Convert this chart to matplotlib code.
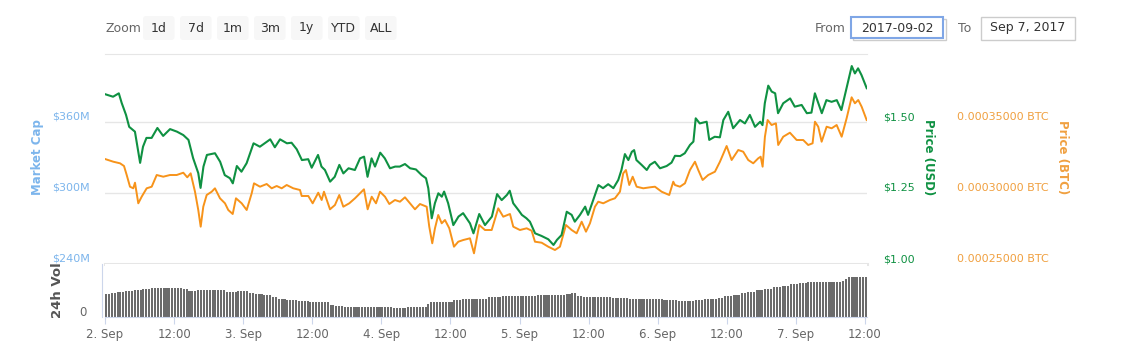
import matplotlib
matplotlib.use("Agg")
import matplotlib.pyplot as plt
import numpy as np
from matplotlib.patches import Rectangle, FancyBboxPatch
from matplotlib.transforms import ScaledTranslation

# hours since 2017-09-02 00:00 and price in USD (green line)
usd_hours = [0, 1.4, 2.4, 2.9, 3.65, 4.2, 5.2, 6.1, 6.6, 7.2,
             8.1, 9.1, 10.1, 11.3, 12.5, 13.6, 14.5, 15.3, 16.2, 16.6,
             17.1, 17.7, 19.1, 20.0, 20.8, 21.7, 22.2, 22.9, 23.7, 24.6,
             25.8, 26.9, 28.7, 29.5, 30.4, 31.6, 32.4, 33.3, 34.2, 35.3,
             35.9, 37.0, 37.6, 38.2, 39.1, 39.9, 40.7, 41.4, 42.3, 43.4,
             44.3, 45.0, 45.6, 46.3, 46.9, 47.8, 48.6, 49.5, 50.4, 51.2,
             52.1, 53.0, 54.0, 55.0, 55.75, 56.15, 56.45, 56.75, 57.3, 57.9,
             58.5, 58.9, 59.6, 60.5, 61.4, 62.2, 63.4, 64.0, 65.0, 66.0,
             67.2, 68.1, 68.9, 69.8, 70.3, 70.9, 71.8, 72.4, 73.2, 73.8,
             74.7, 75.8, 77.0, 77.9, 78.5, 79.3, 80.2, 81.05, 81.6, 82.5,
             83.4, 83.9, 84.8, 85.7, 86.5, 87.4, 88.3, 89.15, 89.7, 90.3,
             90.9, 91.5, 91.9, 92.3, 93.2, 94.1, 94.65, 95.5, 96.4, 97.55,
             98.4, 99.0, 99.9, 100.7, 101.6, 102.2, 102.6, 103.3, 103.9, 104.5,
             104.95, 105.9, 106.8, 107.4, 108.25, 109.1, 110.3, 111.15, 112.0, 112.9,
             113.8, 114.2, 114.6, 115.2, 115.8, 116.4, 116.9, 117.8, 119.0, 119.8,
             121.0, 121.9, 122.7, 123.3, 123.9, 124.5, 125.3, 126.2, 127.1, 127.9,
             128.8, 129.7, 130.25, 130.8, 131.4, 132.3]
usd_price = [1.598, 1.589, 1.601, 1.567, 1.525, 1.483, 1.466, 1.356, 1.413, 1.444,
             1.444, 1.479, 1.451, 1.475, 1.466, 1.454, 1.437, 1.373, 1.320, 1.268,
             1.343, 1.384, 1.390, 1.360, 1.313, 1.302, 1.284, 1.345, 1.325, 1.355,
             1.425, 1.413, 1.439, 1.411, 1.439, 1.425, 1.427, 1.404, 1.366, 1.369,
             1.339, 1.384, 1.343, 1.331, 1.290, 1.307, 1.349, 1.319, 1.337, 1.331,
             1.372, 1.378, 1.307, 1.372, 1.343, 1.392, 1.372, 1.337, 1.343, 1.343,
             1.352, 1.337, 1.333, 1.313, 1.302, 1.267, 1.214, 1.161, 1.214, 1.249,
             1.237, 1.255, 1.214, 1.137, 1.167, 1.179, 1.143, 1.108, 1.176, 1.137,
             1.167, 1.246, 1.225, 1.243, 1.258, 1.214, 1.190, 1.173, 1.161, 1.149,
             1.108, 1.099, 1.087, 1.067, 1.085, 1.102, 1.184, 1.173, 1.149, 1.173,
             1.202, 1.173, 1.225, 1.278, 1.267, 1.281, 1.267, 1.296, 1.331, 1.387,
             1.366, 1.395, 1.401, 1.366, 1.349, 1.331, 1.349, 1.360, 1.337, 1.345,
             1.357, 1.381, 1.380, 1.390, 1.419, 1.431, 1.513, 1.495, 1.498, 1.501,
             1.437, 1.448, 1.446, 1.507, 1.536, 1.478, 1.507, 1.495, 1.525, 1.483,
             1.501, 1.489, 1.566, 1.628, 1.607, 1.601, 1.531, 1.566, 1.583, 1.554,
             1.560, 1.531, 1.533, 1.601, 1.566, 1.531, 1.577, 1.571, 1.577, 1.542,
             1.619, 1.697, 1.671, 1.689, 1.665, 1.619]

# hours and price in satoshi (orange line)
btc_hours = [0, 1.44, 2.61, 3.30, 3.77, 4.34, 4.91, 5.21, 5.78, 6.37,
             7.24, 8.11, 8.98, 10.12, 11.29, 12.45, 13.60, 14.29, 14.88, 15.63,
             16.20, 16.62, 17.07, 17.66, 18.53, 19.10, 19.97, 20.84, 21.41, 22.18,
             22.75, 23.74, 24.61, 25.48, 25.88, 26.92, 28.08, 28.95, 29.82, 30.69,
             31.56, 32.70, 33.87, 34.16, 35.31, 36.07, 37.04, 37.63, 38.03, 39.08,
             39.94, 40.69, 41.39, 42.43, 43.42, 44.29, 44.98, 45.62, 46.32, 47.07,
             47.76, 48.63, 49.38, 50.36, 51.23, 52.10, 52.97, 53.84, 54.71, 55.87,
             56.32, 56.84, 57.31, 57.88, 58.48, 59.05, 59.80, 60.61, 61.36, 62.23,
             63.39, 64.09, 65.00, 65.99, 67.16, 68.30, 69.17, 70.34, 70.91, 72.07,
             73.24, 74.10, 74.68, 75.84, 76.99, 78.15, 79.02, 80.06, 81.05, 81.92,
             82.79, 83.54, 84.23, 85.10, 85.67, 86.54, 87.70, 88.57, 89.44, 90.01,
             90.48, 91.06, 91.65, 92.34, 93.49, 94.65, 95.52, 96.68, 98.00, 98.70,
             98.99, 99.86, 100.73, 101.60, 102.47, 103.04, 103.80, 104.77, 105.94, 106.81,
             107.97, 108.84, 109.99, 110.85, 111.72, 112.59, 113.46, 113.88, 114.22, 114.62,
             115.09, 115.78, 116.53, 116.93, 117.80, 118.96, 120.13, 121.27, 122.14, 122.90,
             123.31, 123.88, 124.47, 125.34, 126.21, 127.08, 127.95, 128.81, 129.68, 130.25,
             130.83, 131.42, 132.29]
btc_sat = [32394, 32204, 32091, 31901, 31267, 30443, 30331, 30725, 29274, 29739,
           30331, 30443, 31267, 31148, 31267, 31267, 31429, 31105, 31387, 30091,
           28803, 27627, 29035, 29859, 30091, 30331, 29627, 29274, 28803, 28521,
           29627, 29274, 28803, 29979, 30683, 30443, 30634, 30331, 30493, 30331,
           30563, 30331, 30211, 29789, 29789, 29274, 30021, 29507, 30091, 28852,
           29155, 29859, 29035, 29274, 29627, 29979, 30260, 28852, 29739, 29274,
           30091, 29739, 29225, 29507, 29387, 29697, 29274, 28852, 29225, 29035,
           27627, 26458, 27514, 28451, 27866, 28098, 27514, 26218, 26570, 26690,
           26810, 25753, 27746, 27394, 27394, 28922, 28331, 28521, 27627, 27394,
           27514, 27345, 26570, 26500, 26218, 25986, 26218, 27746, 27394, 27162,
           27979, 27275, 27866, 29035, 29387, 29274, 29507, 29627, 30091, 31387,
           31619, 30563, 31148, 30443, 30331, 30401, 30443, 30091, 29859, 30796,
           30563, 30443, 30683, 31619, 32204, 31619, 30915, 31267, 31500, 32204,
           33310, 32324, 33028, 32908, 32324, 32091, 32443, 32556, 31852, 33964,
           35140, 34788, 34908, 33380, 33964, 34246, 33732, 33732, 33380, 33500,
           35021, 34669, 33612, 34669, 34556, 34788, 33964, 35260, 36739, 36317,
           36549, 36077, 35140]

# 24h volume, half-hourly bars written as (level, number of bars)
vol_levels = [23.5, 24.5, 25.5, 26.5, 27.5, 28.5, 29.5, 29, 28.5, 26,
              27.5, 27, 25.5, 26, 24.5, 23, 22, 20.5, 18.5, 17,
              16, 15.5, 15, 12.5, 11.5, 10.5, 10, 10.5, 10, 9,
              9.5, 10.5, 13, 15, 15.5, 17, 18, 18.5, 20, 21,
              21.5, 22, 22.5, 23.5, 24.5, 21, 20.5, 20, 19, 18.5,
              18, 17.5, 16.5, 17.5, 18.5, 19.5, 21, 22.5, 24, 25.5,
              27, 28.5, 30, 31.5, 33, 34, 35, 36.5, 38, 40.5]
vol_counts = [2, 2, 3, 3, 3, 3, 8, 3, 2, 3,
              6, 4, 4, 4, 2, 3, 3, 2, 3, 4,
              4, 4, 3, 2, 3, 6, 4, 4, 3, 3,
              2, 7, 1, 4, 4, 3, 4, 5, 5, 6,
              6, 6, 4, 2, 2, 2, 5, 5, 6, 6,
              6, 5, 6, 3, 5, 2, 3, 3, 2, 3,
              3, 3, 3, 3, 3, 3, 12, 1, 1, 7]

x_tick_hours = [0, 12, 24, 36, 48, 60, 72, 84, 96, 108, 120, 132]
x_tick_labels = ["2. Sep", "12:00", "3. Sep", "12:00", "4. Sep", "12:00",
                 "5. Sep", "12:00", "6. Sep", "12:00", "7. Sep", "12:00"]
cap_ticks = [240, 300, 360]
cap_labels = ["$240M", "$300M", "$360M"]
usd_ticks = [1.00, 1.25, 1.50]
usd_labels = ["$1.00", "$1.25", "$1.50"]
btc_ticks = [0.00025, 0.00030, 0.00035]
btc_labels = ["0.00025000 BTC", "0.00030000 BTC", "0.00035000 BTC"]
zoom_buttons = ["1d", "7d", "1m", "3m", "1y", "YTD", "ALL"]

GREEN = "#0f9142"
ORANGE = "#f7931a"
ORANGE_TXT = "#f0a040"
BLUE = "#7cb5ec"
GRID = "#e6e6e6"

W, H = 1121, 351
fig = plt.figure(figsize=(W / 100, H / 100), dpi=100)
fig.patch.set_facecolor("white")


def fx(x):
    return x / W


def fy(y):
    return 1 - y / H


def px(x, y):
    # pixel (top-left origin) -> inches for dpi_scale_trans
    return x / 100, (H - y) / 100


left, right = 105, 867
top, bottom = 53.5, 264
span = bottom - top

# main price panel
ax = fig.add_axes([fx(left), fy(bottom), (right - left) / W, span / H])
ax.set_xlim(0, 132.35)
ax.set_ylim(240, 240 + span * 60 / 71)
ax.set_yticks(cap_ticks)
ax.set_yticklabels(cap_labels)
ax.set_xticks([])
ax.grid(axis="y", color=GRID, lw=1)
ax.axhline(240, color=GRID, lw=2.2, clip_on=False)
for s in ["left", "right", "bottom"]:
    ax.spines[s].set_visible(False)
ax.spines["top"].set_color(GRID)
ax.tick_params(axis="y", length=0, pad=10.8, labelcolor=BLUE, labelsize=8)

ax_usd = ax.twinx()
ax_usd.set_ylim(1.0, 1.0 + span / 284)
ax_usd.set_yticks(usd_ticks)
ax_usd.set_yticklabels(usd_labels)
ax_usd.tick_params(axis="y", length=0, pad=11.3, labelcolor=GREEN, labelsize=8)

ax_btc = ax.twinx()
ax_btc.set_ylim(0.00025, 0.00025 + span / 1420000)
ax_btc.set_yticks(btc_ticks)
ax_btc.set_yticklabels(btc_labels)
ax_btc.spines["right"].set_position(("outward", 53.3))
ax_btc.tick_params(axis="y", length=0, pad=11.3, labelcolor=ORANGE_TXT, labelsize=8)

for a in (ax_usd, ax_btc):
    for s in a.spines.values():
        s.set_visible(False)

ax_btc.plot(btc_hours, np.array(btc_sat) * 1e-8, color=ORANGE, lw=1.4)
ax_usd.plot(usd_hours, usd_price, color=GREEN, lw=1.5)
ax_usd.set_zorder(ax_btc.get_zorder() + 1)
ax_usd.patch.set_visible(False)

lift = ScaledTranslation(0, 0.06, fig.dpi_scale_trans)
for a in (ax, ax_usd, ax_btc):
    for lbl in a.get_yticklabels():
        lbl.set_transform(lbl.get_transform() + lift)

# volume panel
vol = np.repeat(vol_levels, vol_counts)
vol_x = np.arange(len(vol)) * 0.5
axv = fig.add_axes([fx(left), fy(317), (right - left) / W, (317 - bottom) / H])
axv.bar(vol_x, vol, width=0.36, align="edge", color="#6b6b6b")
axv.set_xlim(0, 132.35)
axv.set_ylim(0, 53)
axv.set_yticks([0])
axv.set_yticklabels(["0"])
axv.set_xticks(x_tick_hours)
axv.set_xticklabels(x_tick_labels)
axv.spines["top"].set_visible(False)
axv.spines["right"].set_visible(False)
axv.spines["left"].set_position(("outward", 2))
axv.spines["left"].set_color("#ccd6eb")
axv.spines["bottom"].set_color("#ccd6eb")
axv.tick_params(axis="x", length=5, color="#ccd6eb", labelcolor="#666666",
                labelsize=8.5, pad=3)
axv.tick_params(axis="y", length=0, pad=11.2, labelcolor="#666666", labelsize=8.5)
for lbl in axv.get_yticklabels():
    lbl.set_transform(lbl.get_transform() + lift)

# axis titles
fig.text(fx(37), fy(157), "Market Cap", rotation=90, ha="center", va="center",
         color=BLUE, fontsize=8.5, fontweight="bold")
fig.text(fx(929), fy(157), "Price (USD)", rotation=270, ha="center", va="center",
         color=GREEN, fontsize=8.5, fontweight="bold")
fig.text(fx(1062), fy(157), "Price (BTC)", rotation=270, ha="center", va="center",
         color=ORANGE_TXT, fontsize=8.5, fontweight="bold")
fig.text(fx(57), fy(290), "24h Vol", rotation=90, ha="center", va="center",
         color="#555555", fontsize=9.5, fontweight="bold")

# range selector header
fig.text(fx(105), fy(28), "Zoom", ha="left", va="center", color="#666666", fontsize=9)
bx = 143
for name in zoom_buttons:
    fig.add_artist(FancyBboxPatch(px(bx, 40), 31.5 / 100, 24 / 100,
                                  boxstyle="round,pad=0,rounding_size=0.03",
                                  transform=fig.dpi_scale_trans,
                                  facecolor="#f7f7f7", edgecolor="none"))
    fig.text(fx(bx + 15.75), fy(28), name, ha="center", va="center",
             color="#333333", fontsize=9)
    bx += 37

fig.text(fx(815), fy(28), "From", ha="left", va="center", color="#666666", fontsize=9)
fig.add_artist(Rectangle(px(853, 40), 93 / 100, 21.5 / 100, transform=fig.dpi_scale_trans,
                         facecolor="white", edgecolor="#cccccc", lw=1))
fig.add_artist(Rectangle(px(851, 38), 92 / 100, 21 / 100, transform=fig.dpi_scale_trans,
                         facecolor="white", edgecolor="#7fa6e6", lw=1.5))
fig.text(fx(897), fy(28), "2017-09-02", ha="center", va="center", color="#333333", fontsize=9)
fig.text(fx(958), fy(28), "To", ha="left", va="center", color="#666666", fontsize=9)
fig.add_artist(Rectangle(px(981, 40), 94 / 100, 23 / 100, transform=fig.dpi_scale_trans,
                         facecolor="white", edgecolor="#cccccc", lw=1))
fig.text(fx(1028), fy(28), "Sep 7, 2017", ha="center", va="center", color="#333333", fontsize=9)

fig.savefig("out.png", dpi=100, facecolor="white")
